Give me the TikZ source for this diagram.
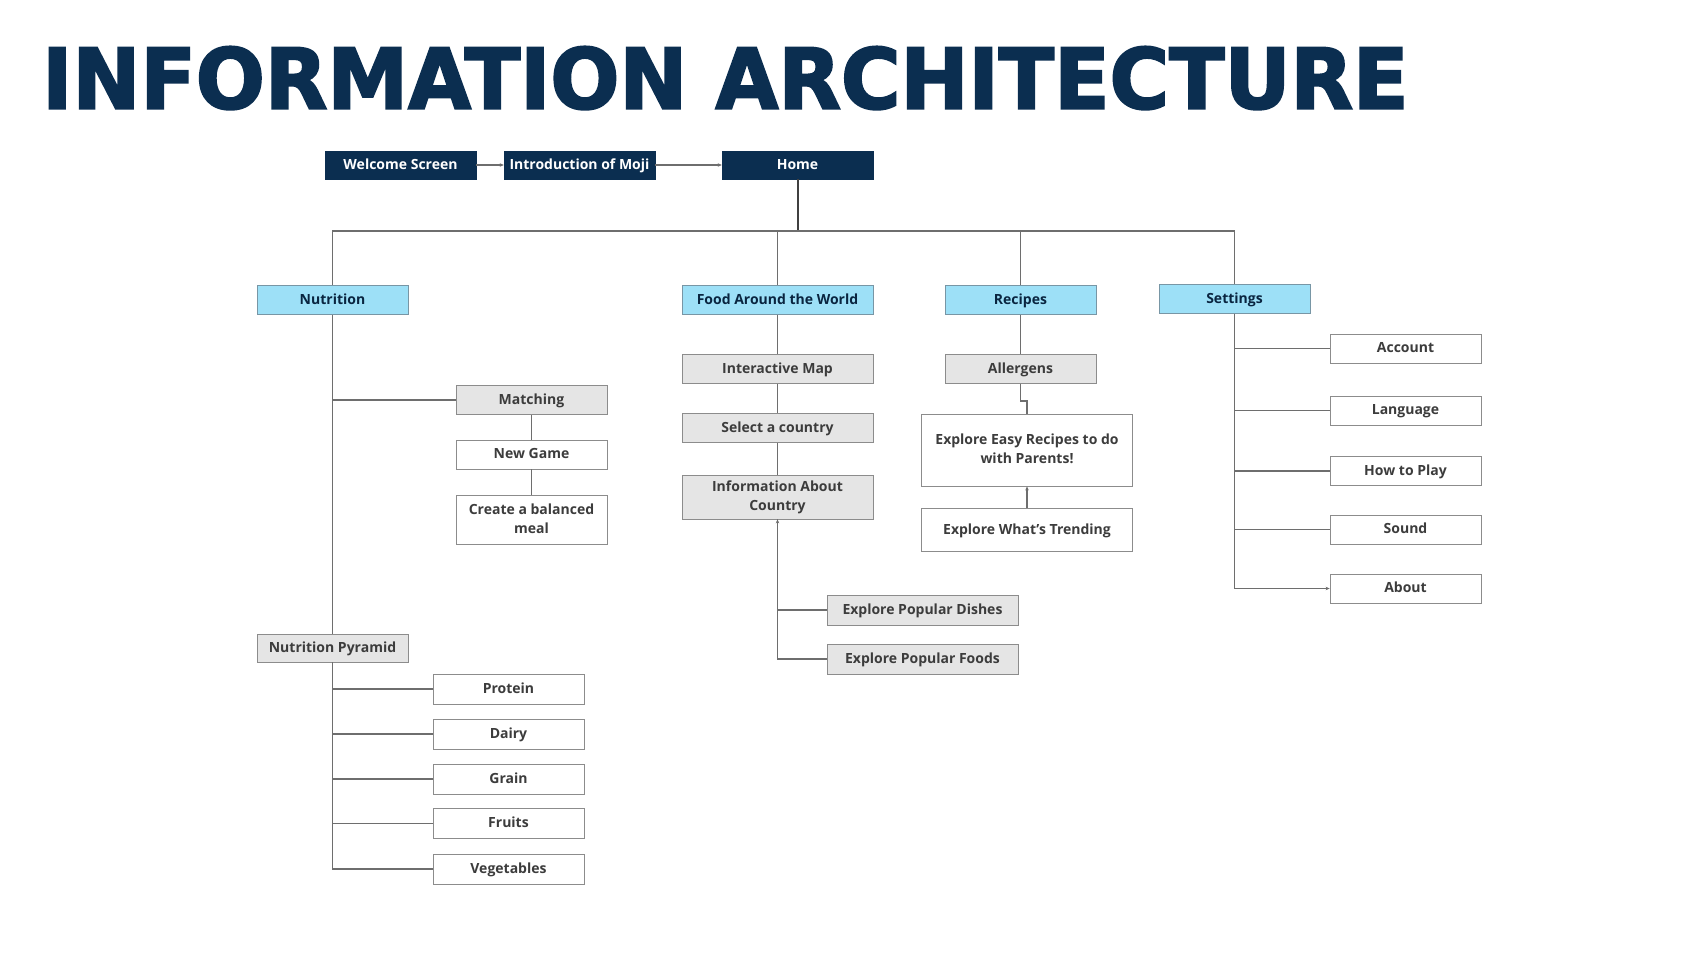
\documentclass[tikz,border=0pt]{standalone}
\usepackage{fontspec}
\usepackage{graphicx}
\setmainfont{Open Sans}
\newfontfamily\titlefont[BoldFeatures={FakeBold=2.5}]{DejaVu Sans}
\usetikzlibrary{arrows.meta}

\definecolor{navy}{RGB}{11,46,80}
\definecolor{skyfill}{RGB}{157,224,247}
\definecolor{skyline}{RGB}{120,150,165}
\definecolor{greyfill}{RGB}{229,229,229}
\definecolor{greyline}{RGB}{140,140,140}
\definecolor{textgrey}{RGB}{60,60,60}
\definecolor{linkgrey}{RGB}{110,110,110}

\begin{document}
\begin{tikzpicture}[x=1pt,y=-1pt,
    every node/.style={font=\fontsize{14}{18.5}\selectfont\bfseries, text=textgrey, inner sep=0pt, align=center},
    topbox/.style={draw=navy, fill=navy, text=white, minimum width=151pt, minimum height=28pt, text height=10.5pt, text depth=2.5pt},
    mainbox/.style={draw=skyline, fill=skyfill, text=navy!80!black, minimum width=151pt, minimum height=29pt, line width=0.8pt, text height=10.5pt, text depth=2.5pt},
    greybox/.style={draw=greyline, fill=greyfill, minimum width=151pt, minimum height=29pt, line width=0.8pt, text height=10.5pt, text depth=2.5pt},
    plainbox/.style={draw=greyline, fill=white, minimum width=151pt, minimum height=29pt, line width=0.8pt, text height=10.5pt, text depth=2.5pt},
    twolines/.style={text height=29pt, text depth=2.5pt},
    link/.style={draw=linkgrey, line width=1.2pt},
    tip/.style={-{Stealth[length=4pt,width=3.5pt]}}]

    % page
    \fill[white] (0,0) rectangle (1700,956);

    % title
    \node[anchor=base west, text=navy] (title) at (42,108.5)
        {\resizebox{1366pt}{62pt}{\titlefont\bfseries INFORMATION ARCHITECTURE}};

    % top row
    \node[topbox] (welcome) at (400.5,165) {Welcome Screen};
    \node[topbox] (intro) at (579.5,165) {Introduction of Moji};
    \node[topbox] (home) at (797.5,165) {Home};
    \coordinate (bus) at (797.5,231);

    % main sections
    \node[mainbox] (nutr) at (332.5,300) {Nutrition};
    \node[mainbox, minimum width=191pt] (food) at (777.5,300) {Food Around the World};
    \node[mainbox] (recipes) at (1020.5,300) {Recipes};
    \node[mainbox] (settings) at (1234.5,299) {Settings};

    % nutrition
    \node[greybox] (matching) at (531.5,400) {Matching};
    \node[plainbox] (newgame) at (531.5,454.5) {New Game};
    \node[plainbox, twolines, minimum height=49pt] (meal) at (531.5,520) {Create a balanced\\meal};
    \node[greybox, minimum height=28pt] (pyramid) at (332.5,648) {Nutrition Pyramid};
    \node[plainbox, minimum height=30pt] (protein) at (508.5,689) {Protein};
    \node[plainbox, minimum height=30pt] (dairy) at (508.5,734) {Dairy};
    \node[plainbox, minimum height=30pt] (grain) at (508.5,779) {Grain};
    \node[plainbox, minimum height=30pt] (fruits) at (508.5,823.5) {Fruits};
    \node[plainbox, minimum height=30pt] (veg) at (508.5,869) {Vegetables};

    % food around the world
    \node[greybox, minimum width=191pt] (map) at (777.5,369) {Interactive Map};
    \node[greybox, minimum width=191pt] (country) at (777.5,428) {Select a country};
    \node[greybox, twolines, minimum width=191pt, minimum height=44pt] (info) at (777.5,497) {Information About\\Country};
    \node[greybox, minimum width=191pt, minimum height=30pt] (dishes) at (922.5,610) {Explore Popular Dishes};
    \node[greybox, minimum width=191pt, minimum height=30pt] (foods) at (922.5,659) {Explore Popular Foods};

    % recipes
    \node[greybox] (allergens) at (1020.5,369) {Allergens};
    \node[plainbox, twolines, minimum width=211.5pt, minimum height=72pt] (easy) at (1027,450) {Explore Easy Recipes to do\\with Parents!};
    \node[plainbox, minimum width=211.5pt, minimum height=43pt] (trending) at (1027,530) {Explore What's Trending};

    % settings
    \node[plainbox] (account) at (1405.5,348.5) {Account};
    \node[plainbox] (language) at (1405.5,410.5) {Language};
    \node[plainbox] (howto) at (1405.5,471) {How to Play};
    \node[plainbox] (sound) at (1405.5,529.5) {Sound};
    \node[plainbox] (about) at (1405.5,588.5) {About};

    % connectors
    \draw[link, tip] (welcome) -- (intro);
    \draw[link, tip] (intro) -- (home);
    \draw[link, draw=black!75, line width=2pt] (home) -- (bus);
    \draw[link] (bus) -| (nutr);
    \draw[link] (bus) -| (food);
    \draw[link] (bus) -| (recipes);
    \draw[link] (bus) -| (settings);

    \draw[link] (nutr) -- (pyramid);
    \draw[link] (matching) -| (nutr);
    \draw[link] (matching) -- (newgame);
    \draw[link] (newgame) -- (meal);
    \foreach \n in {protein,dairy,grain,fruits,veg}
        \draw[link] (pyramid) |- (\n);

    \draw[link] (food) -- (map);
    \draw[link] (map) -- (country);
    \draw[link] (country) -- (info);
    \draw[link] (info) |- (dishes);
    \draw[link, tip] (foods) -| (info);

    \draw[link] (recipes) -- (allergens);
    \draw[link] (allergens.south) -- ++(0,17) -| (easy.north);
    \draw[link, tip] (trending) -- (easy);

    \foreach \n in {account,language,howto,sound}
        \draw[link] (settings) |- (\n);
    \draw[link, tip] (settings) |- (about);
\end{tikzpicture}
\end{document}
